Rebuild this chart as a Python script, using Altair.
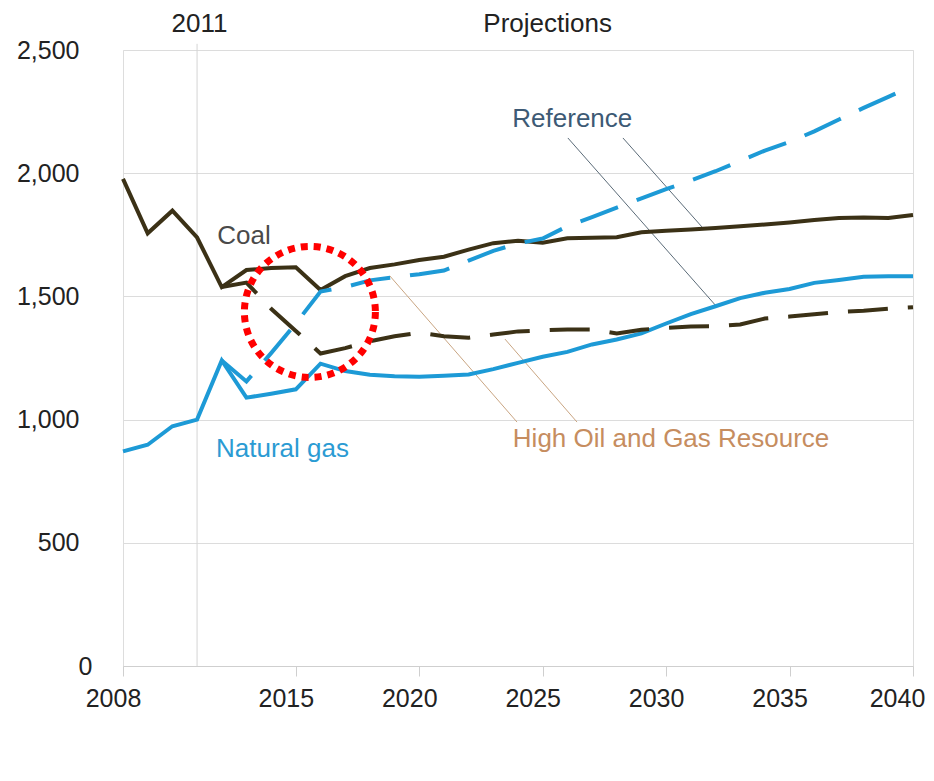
import altair as alt
import pandas as pd

FONT = "Liberation Sans"

# ---- data ----
years = list(range(2008, 2041))
coal_ref = [1977, 1756, 1848, 1739, 1538, 1607, 1615, 1618, 1526, 1582, 1615,
            1630, 1648, 1661, 1690, 1716, 1726, 1718, 1736, 1738, 1740, 1760,
            1766, 1772, 1778, 1785, 1792, 1800, 1810, 1818, 1820, 1818, 1830]
ng_ref = [871, 898, 973, 1000, 1240, 1089, 1105, 1123, 1227, 1197, 1182,
          1176, 1174, 1178, 1183, 1205, 1230, 1255, 1275, 1305, 1325, 1350,
          1390, 1428, 1460, 1493, 1515, 1530, 1555, 1567, 1580, 1582, 1582]

hog_years = list(range(2012, 2041))
coal_hog = [1538, 1556, 1450, 1360, 1268, 1290, 1318, 1338, 1353, 1338, 1332,
            1345, 1358, 1362, 1366, 1366, 1350, 1365, 1372, 1378, 1379, 1386,
            1410, 1418, 1428, 1437, 1442, 1450, 1456]
ng_hog = [1240, 1155, 1270, 1390, 1520, 1538, 1565, 1578, 1590, 1605, 1645,
          1685, 1715, 1735, 1785, 1822, 1860, 1898, 1935, 1970, 2008, 2050,
          2092, 2127, 2170, 2218, 2265, 2310, 2355]

x_ticks = [2008, 2015, 2020, 2025, 2030, 2035, 2040]
y_ticks = [0, 500, 1000, 1500, 2000, 2500]

label_text = ["2011", "Projections", "Coal", "Natural gas", "Reference",
              "High Oil and Gas Resource"]
label_x = [2011.1, 2025.2, 2012.9, 2014.46, 2026.2, 2030.2]
label_y = [2605, 2605, 1745, 881, 2220, 921]
label_color = ["#222222", "#222222", "#4a4a4a", "#2b9bd3", "#3d5a75", "#c68d5f"]

leader_x = [2026.02, 2028.25, 2018.81, 2023.47]
leader_y = [2143, 2143, 1583, 1327]
leader_x2 = [2032.06, 2031.45, 2023.96, 2026.39]
leader_y2 = [1457, 1782, 990, 990]
leader_color = ["#5b6b78", "#5b6b78", "#c9a582", "#c9a582"]

marker_year = [2015.57]
marker_value = [1437]

COAL = "#3b3116"
GAS = "#1d9ad6"

# ---- tables ----
ref_df = pd.DataFrame({"year": years, "coal": coal_ref, "gas": ng_ref})
hog_df = pd.DataFrame({"year": hog_years, "coal": coal_hog, "gas": ng_hog})
lab_df = pd.DataFrame({"t": label_text, "x": label_x, "y": label_y, "c": label_color})
lead_df = pd.DataFrame({"x": leader_x, "y": leader_y, "x2": leader_x2,
                        "y2": leader_y2, "c": leader_color})
mark_df = pd.DataFrame({"x": marker_year, "y": marker_value})
vline_df = pd.DataFrame({"x": [2011], "y": [0], "y2": [2525]})

X = alt.Scale(domain=[2008, 2040], nice=False, zero=False)
Y = alt.Scale(domain=[0, 2500], nice=False)

xaxis = alt.Axis(values=x_ticks, format="d", grid=False, domainColor="#cfcfcf",
                 tickColor="#cfcfcf", tickSize=10, labelFontSize=25,
                 labelColor="#222222", labelFont=FONT, labelPadding=10,
                 labelOffset={"condition": {"test": "datum.value == 2040", "value": -16},
                              "value": -10},
                 labelFlush=False, title=None, labelOverlap=False)
yaxis = alt.Axis(values=y_ticks, format=",.0f", grid=True, gridColor="#dcdcdc",
                 domain=False, ticks=False, labelFontSize=25,
                 labelColor="#222222", labelFont=FONT, labelFlush=False,
                 labelPadding={"condition": {"test": "datum.value == 0", "value": 31},
                               "value": 44},
                 title=None)

vline = alt.Chart(vline_df).mark_rule(color="#d4d4d4", strokeWidth=1).encode(
    x=alt.X("x:Q", scale=X, axis=xaxis),
    y=alt.Y("y:Q", scale=Y, axis=yaxis),
    y2="y2:Q",
)

def line(df, field, color, dashed):
    kw = dict(color=color, strokeWidth=4)
    if dashed:
        kw["strokeDash"] = [40, 20]
    return alt.Chart(df).mark_line(**kw).encode(
        x=alt.X("year:Q", scale=X),
        y=alt.Y(f"{field}:Q", scale=Y),
    )

leaders = alt.Chart(lead_df).mark_rule(strokeWidth=1).encode(
    x=alt.X("x:Q", scale=X), y=alt.Y("y:Q", scale=Y),
    x2="x2:Q", y2="y2:Q",
    color=alt.Color("c:N", scale=None),
)

labels = alt.Chart(lab_df).mark_text(font=FONT, fontSize=26, baseline="middle",
                                     align="center").encode(
    x=alt.X("x:Q", scale=X), y=alt.Y("y:Q", scale=Y),
    text="t:N",
    color=alt.Color("c:N", scale=None),
)

marker = alt.Chart(mark_df).mark_point(shape="circle", filled=False, size=17161,
                                       stroke="#ff0000", strokeWidth=7,
                                       strokeDash=[7, 6], opacity=1).encode(
    x=alt.X("x:Q", scale=X), y=alt.Y("y:Q", scale=Y),
)

chart = alt.layer(
    vline,
    leaders,
    line(ref_df, "coal", COAL, False),
    line(ref_df, "gas", GAS, False),
    line(hog_df, "coal", COAL, True),
    line(hog_df, "gas", GAS, True),
    marker,
    labels,
).properties(
    width=790, height=616,
    autosize=alt.AutoSizeParams(type="none"),
    padding={"left": 115, "top": 42, "right": 13, "bottom": 60},
).configure_view(stroke=None).configure(background="white")

chart.save("out.html", embed_options={"renderer": "svg", "actions": False})
